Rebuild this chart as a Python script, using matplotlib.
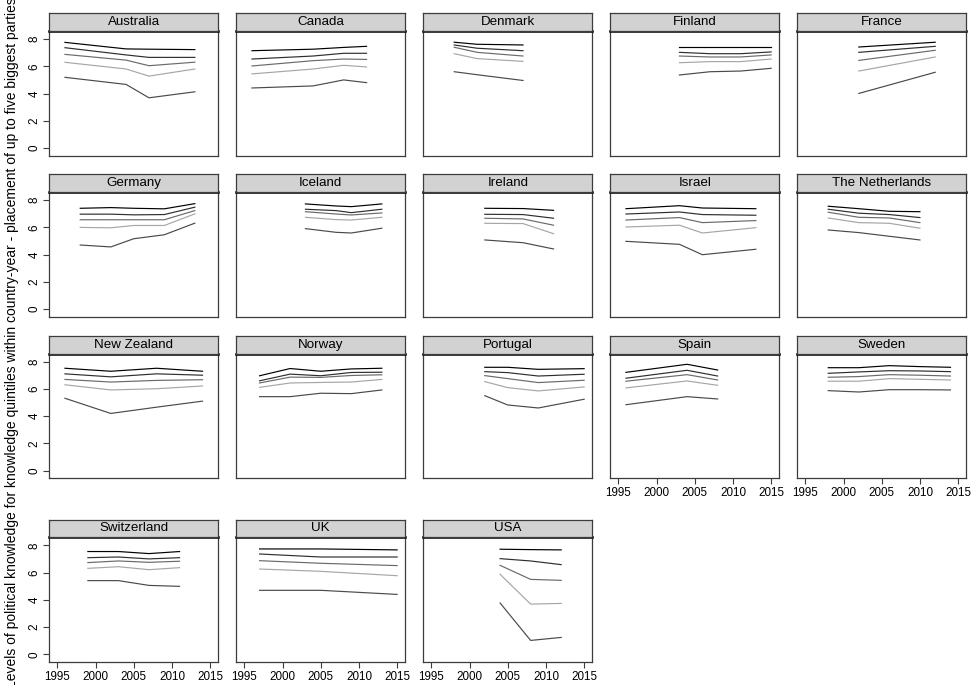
import matplotlib
matplotlib.use("Agg")
import matplotlib.pyplot as plt

plt.rcParams["font.family"] = ["Liberation Sans", "DejaVu Sans"]

# Survey years and quintile lines (top line = most knowledgeable quintile)
australia_years = [1996, 2004, 2007, 2013]
australia_levels = [
    [7.75, 7.27, 7.25, 7.22],
    [7.36, 6.83, 6.65, 6.65],
    [6.87, 6.45, 6.04, 6.30],
    [6.29, 5.80, 5.28, 5.80],
    [5.19, 4.67, 3.69, 4.13],
]

canada_years = [1996, 2004, 2008, 2011]
canada_levels = [
    [7.14, 7.25, 7.38, 7.46],
    [6.53, 6.75, 6.95, 6.95],
    [6.02, 6.41, 6.53, 6.50],
    [5.44, 5.80, 6.07, 5.95],
    [4.41, 4.56, 5.00, 4.80],
]

denmark_years = [1998, 2001, 2007]
denmark_levels = [
    [7.76, 7.61, 7.56],
    [7.56, 7.32, 7.14],
    [7.39, 7.02, 6.75],
    [6.92, 6.56, 6.36],
    [5.60, 5.38, 4.96],
]

finland_years = [2003, 2007, 2011, 2015]
finland_levels = [
    [7.41, 7.41, 7.41, 7.41],
    [7.02, 6.92, 6.92, 7.05],
    [6.75, 6.68, 6.68, 6.83],
    [6.26, 6.34, 6.34, 6.53],
    [5.36, 5.60, 5.65, 5.85],
]

france_years = [2002, 2012]
france_levels = [
    [7.41, 7.76],
    [7.02, 7.46],
    [6.43, 7.17],
    [5.65, 6.68],
    [4.01, 5.56],
]

germany_years = [1998, 2002, 2005, 2009, 2013]
germany_levels = [
    [7.39, 7.44, 7.39, 7.35, 7.73],
    [6.96, 6.96, 6.91, 6.93, 7.47],
    [6.55, 6.55, 6.55, 6.55, 7.22],
    [5.99, 5.96, 6.13, 6.13, 6.98],
    [4.70, 4.56, 5.16, 5.45, 6.30],
]

iceland_years = [2003, 2007, 2009, 2013]
iceland_levels = [
    [7.71, 7.56, 7.51, 7.71],
    [7.32, 7.22, 7.07, 7.32],
    [7.14, 6.97, 6.90, 7.05],
    [6.73, 6.56, 6.53, 6.73],
    [5.90, 5.63, 5.58, 5.93],
]

ireland_years = [2002, 2007, 2011]
ireland_levels = [
    [7.39, 7.37, 7.24],
    [6.95, 6.93, 6.66],
    [6.66, 6.61, 6.15],
    [6.29, 6.27, 5.53],
    [5.07, 4.87, 4.41],
]

israel_years = [1996, 2003, 2006, 2013]
israel_levels = [
    [7.36, 7.58, 7.41, 7.36],
    [6.97, 7.12, 6.93, 6.88],
    [6.53, 6.71, 6.34, 6.49],
    [6.02, 6.15, 5.58, 5.97],
    [4.97, 4.75, 3.99, 4.39],
]

netherlands_years = [1998, 2002, 2006, 2010]
netherlands_levels = [
    [7.54, 7.36, 7.17, 7.14],
    [7.32, 7.03, 6.93, 6.71],
    [7.10, 6.73, 6.68, 6.34],
    [6.68, 6.34, 6.29, 5.93],
    [5.80, 5.61, 5.34, 5.07],
]

new_zealand_years = [1996, 2002, 2008, 2014]
new_zealand_levels = [
    [7.51, 7.29, 7.51, 7.29],
    [7.10, 6.88, 7.10, 7.00],
    [6.69, 6.50, 6.62, 6.67],
    [6.30, 5.92, 6.01, 6.21],
    [5.31, 4.20, 4.66, 5.10],
]

norway_years = [1997, 2001, 2005, 2009, 2013]
norway_levels = [
    [6.96, 7.49, 7.29, 7.46, 7.51],
    [6.59, 7.08, 6.96, 7.20, 7.22],
    [6.43, 6.86, 6.84, 6.98, 7.03],
    [6.11, 6.43, 6.47, 6.50, 6.69],
    [5.43, 5.43, 5.68, 5.65, 5.92],
]

portugal_years = [2002, 2005, 2009, 2015]
portugal_levels = [
    [7.58, 7.58, 7.43, 7.48],
    [7.26, 7.19, 6.94, 7.07],
    [6.97, 6.75, 6.46, 6.63],
    [6.53, 6.09, 5.85, 6.14],
    [5.50, 4.82, 4.60, 5.24],
]

spain_years = [1996, 2004, 2008]
spain_levels = [
    [7.21, 7.80, 7.38],
    [6.78, 7.36, 6.94],
    [6.56, 7.04, 6.65],
    [6.07, 6.58, 6.26],
    [4.84, 5.43, 5.26],
]

sweden_years = [1998, 2002, 2006, 2010, 2014]
sweden_levels = [
    [7.55, 7.55, 7.70, 7.63, 7.58],
    [7.14, 7.24, 7.33, 7.31, 7.26],
    [6.85, 6.90, 7.04, 7.00, 6.94],
    [6.56, 6.56, 6.75, 6.70, 6.65],
    [5.87, 5.77, 5.94, 5.94, 5.92],
]

switzerland_years = [1999, 2003, 2007, 2011]
switzerland_levels = [
    [7.54, 7.54, 7.39, 7.54],
    [7.09, 7.14, 7.00, 7.09],
    [6.73, 6.85, 6.75, 6.83],
    [6.31, 6.43, 6.21, 6.36],
    [5.41, 5.41, 5.06, 4.99],
]

uk_years = [1997, 2005, 2015]
uk_levels = [
    [7.73, 7.73, 7.66],
    [7.36, 7.14, 7.14],
    [6.87, 6.68, 6.51],
    [6.26, 6.09, 5.77],
    [4.70, 4.70, 4.40],
]

usa_years = [2004, 2008, 2012]
usa_levels = [
    [7.71, 7.68, 7.66],
    [7.02, 6.85, 6.58],
    [6.53, 5.50, 5.43],
    [5.87, 3.69, 3.74],
    [3.77, 1.03, 1.25],
]

panels = [
    ("Australia", australia_years, australia_levels),
    ("Canada", canada_years, canada_levels),
    ("Denmark", denmark_years, denmark_levels),
    ("Finland", finland_years, finland_levels),
    ("France", france_years, france_levels),
    ("Germany", germany_years, germany_levels),
    ("Iceland", iceland_years, iceland_levels),
    ("Ireland", ireland_years, ireland_levels),
    ("Israel", israel_years, israel_levels),
    ("The Netherlands", netherlands_years, netherlands_levels),
    ("New Zealand", new_zealand_years, new_zealand_levels),
    ("Norway", norway_years, norway_levels),
    ("Portugal", portugal_years, portugal_levels),
    ("Spain", spain_years, spain_levels),
    ("Sweden", sweden_years, sweden_levels),
    ("Switzerland", switzerland_years, switzerland_levels),
    ("UK", uk_years, uk_levels),
    ("USA", usa_years, usa_levels),
]

x_ticks = [1995, 2000, 2005, 2010, 2015]
y_ticks = [0, 2, 4, 6, 8]
line_colors = ["#000000", "#2e2e2e", "#6a6a6a", "#a6a6a6", "#4a4a4a"]

W, H = 971, 685
fig = plt.figure(figsize=(W / 100, H / 100), dpi=100)

col_left = [49.3 + 187 * c for c in range(5)]
panel_w = 169
row_bottom = [155.7, 316.7, 478.3, 662.0]   # pixel row of plot-area bottom edge
plot_h = 124.8
head_h = 17.6
frame_col = "#3c3c3c"

n_cols = 5
n_panels = len(panels)
for i, (name, years, levels) in enumerate(panels):
    r, c = divmod(i, n_cols)
    x0 = col_left[c]
    yb = row_bottom[r]
    ax = fig.add_axes([x0 / W, 1 - yb / H, panel_w / W, plot_h / H])
    for series, col in zip(levels, line_colors):
        ax.plot(years, series, color=col, lw=0.85, solid_joinstyle="round")
    ax.set_xlim(1993.95, 2016.07)
    ax.set_ylim(-0.55, 8.59)
    for s in ax.spines.values():
        s.set_color(frame_col)
        s.set_linewidth(0.9)
    ax.spines["top"].set_color("#000000")
    ax.spines["top"].set_linewidth(1.8)

    show_x = (i + n_cols) >= n_panels
    show_y = c == 0
    ax.set_xticks(x_ticks)
    ax.set_yticks(y_ticks)
    ax.tick_params(axis="both", direction="out", length=4, width=0.8,
                   color=frame_col, labelsize=8.4, pad=2.5)
    if show_x:
        ax.set_xticklabels([str(t) for t in x_ticks])
    else:
        ax.tick_params(axis="x", bottom=False, labelbottom=False)
    if show_y:
        ax.set_yticklabels([str(t) for t in y_ticks], rotation=90, va="center")
    else:
        ax.tick_params(axis="y", left=False, labelleft=False)

    hx = fig.add_axes([x0 / W, 1 - (yb - plot_h) / H, panel_w / W, head_h / H])
    hx.set_facecolor("#d2d2d2")
    hx.set_xticks([])
    hx.set_yticks([])
    for s in hx.spines.values():
        s.set_color(frame_col)
        s.set_linewidth(0.9)
    hx.text(0.5, 0.5, name, ha="center", va="center", fontsize=9.6,
            transform=hx.transAxes)

fig.text(12 / W, 1 - 343 / H,
         "Levels of political knowledge for knowledge quintiles within country-year"
         " - placement of up to five biggest parties",
         rotation=90, ha="center", va="center", fontsize=10.0)

fig.savefig("out.png", dpi=100, facecolor="white")
